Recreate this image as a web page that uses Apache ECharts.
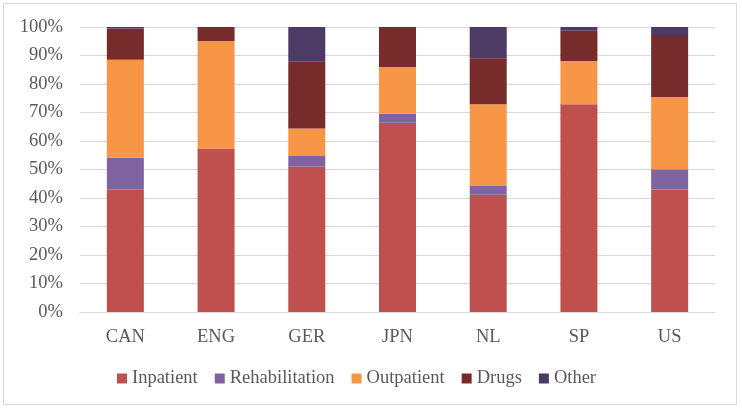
<!DOCTYPE html>
<html>
<head>
<meta charset="utf-8">
<script src="https://cdn.jsdelivr.net/npm/echarts@6/dist/echarts.min.js"></script>
<style>
html,body{margin:0;padding:0;background:#fff;}
#wrap{position:absolute;left:3px;top:3px;width:734px;height:402px;border:1px solid #d9d9d9;box-sizing:border-box;}
#chart{position:absolute;left:0;top:0;width:742px;height:410px;}
</style>
</head>
<body>
<div id="wrap"></div>
<div id="chart"></div>
<script>
const categories = ['CAN', 'ENG', 'GER', 'JPN', 'NL', 'SP', 'US'];
const inpatient      = [43.0, 57.4, 51.0, 66.4, 41.1, 72.9, 43.0];
const rehabilitation = [11.2, 0,    3.7,  3.2,  3.1,  0,    7.1];
const outpatient     = [34.3, 37.7, 9.7,  16.4, 28.7, 15.2, 25.3];
const drugs          = [11.0, 4.9,  23.4, 14.0, 16.1, 10.6, 21.8];
const other          = [0.5,  0,    12.2, 0,    11.0, 1.3,  2.8];
const seriesNames = ['Inpatient', 'Rehabilitation', 'Outpatient', 'Drugs', 'Other'];
const yTicks = ['0%','10%','20%','30%','40%','50%','60%','70%','80%','90%','100%'];

const colors = ['#C0504D', '#8064A2', '#F79646', '#772B2A', '#4E3B65'];
const font = 'Liberation Serif';
const dataSets = [inpatient, rehabilitation, outpatient, drugs, other];

const chart = echarts.init(document.getElementById('chart'), null, {renderer: 'canvas'});
chart.setOption({
  animation: false,
  color: colors,
  grid: {left: 80, right: 27, top: 27, bottom: 98},
  legend: {
    top: 364,
    left: 112,
    itemWidth: 10, itemHeight: 10, itemGap: 17,
    icon: 'rect',
    textStyle: {fontFamily: font, fontSize: 18.5, color: '#595959'},
    data: seriesNames
  },
  xAxis: {
    type: 'category',
    data: categories,
    axisLine: {lineStyle: {color: '#D9D9D9', width: 1}},
    axisTick: {show: false},
    axisLabel: {fontFamily: font, fontSize: 18.5, color: '#595959', margin: 16}
  },
  yAxis: {
    type: 'value',
    min: 0, max: 100, interval: 10,
    axisLine: {show: false},
    axisTick: {show: false},
    splitLine: {lineStyle: {color: '#D9D9D9', width: 1}},
    axisLabel: {
      fontFamily: font, fontSize: 18.5, color: '#595959', margin: 17,
      formatter: function (v) { return yTicks[Math.round(v / 10)]; }
    }
  },
  series: dataSets.map(function (d, i) {
    return {
      name: seriesNames[i],
      type: 'bar',
      stack: 'total',
      barWidth: 37,
      data: d
    };
  })
});
</script>
</body>
</html>
